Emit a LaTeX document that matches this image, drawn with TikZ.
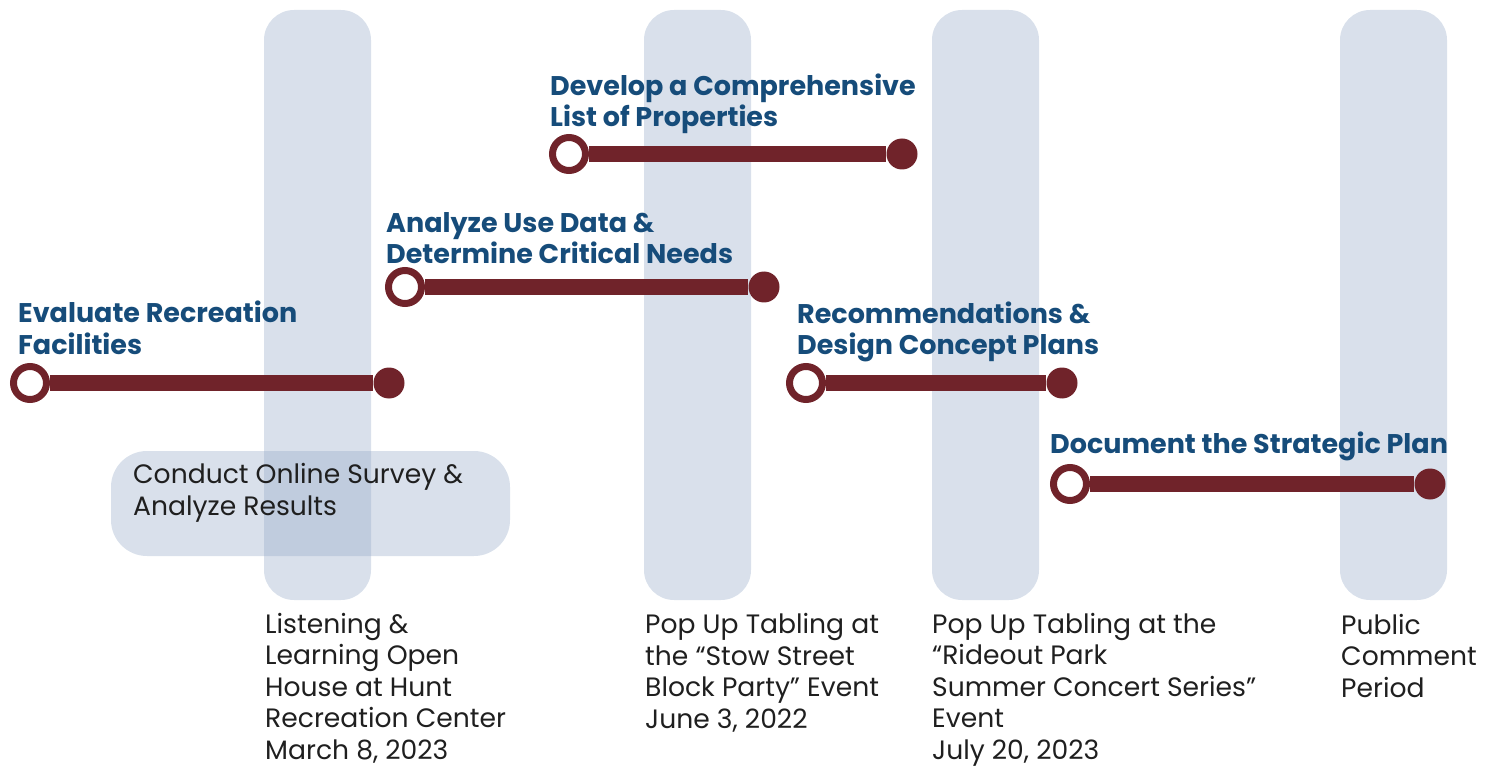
\documentclass[tikz,border=0pt]{standalone}
\usepackage{fontspec}
\setmainfont{Poppins}
\usetikzlibrary{positioning}
\definecolor{plan_maroon}{RGB}{112, 35, 42}
\definecolor{plan_blue}{RGB}{22, 76, 122}
\definecolor{plan_haze}{RGB}{143, 164, 196}
\tikzstyle{bar}=[fill=plan_haze, fill opacity=0.34, rounded corners=30pt, minimum width=107pt, minimum height=590pt, inner sep=0pt]
\tikzstyle{ring}=[circle, draw=plan_maroon, line width=7pt, fill=white, minimum size=33pt, inner sep=0pt]
\tikzstyle{dot}=[circle, fill=plan_maroon, minimum size=31pt, inner sep=0pt]
\tikzstyle{track}=[plan_maroon, line width=16pt]
\tikzstyle{phase}=[anchor=base west, align=left, inner sep=0pt, text=plan_blue, font=\fontsize{27}{31.5}\selectfont\bfseries]
\tikzstyle{event}=[anchor=base west, align=left, inner sep=0pt, text=black!88, font=\fontsize{26.6}{31.5}\selectfont]

\begin{document}
\begin{tikzpicture}[x=1pt, y=-1pt]
            \useasboundingbox (0, 0) rectangle (1494, 767);
            % engagement bars
            \node[bar] (b1) at (317.5, 305) {};
            \node[bar] (b2) at (697.5, 305) {};
            \node[bar] (b3) at (985.5, 305) {};
            \node[bar] (b4) at (1393.5, 305) {};
            \node[bar, minimum width=399pt, minimum height=105pt, rounded corners=36pt] (survey) at (310.5, 503.5) {};
            \node[event] (surveytxt) at (133, 515) {Conduct Online Survey \&\\Analyze Results};
            % events below the bars (anchored on the last line)
            \node[event] (e1) at (265, 759) {Listening \&\\Learning Open\\House at Hunt\\Recreation Center\\March 8, 2023};
            \node[event] (e2) at (645, 728) {Pop Up Tabling at\\the “Stow Street\\Block Party” Event\\June 3, 2022};
            \node[event] (e3) at (932, 759) {Pop Up Tabling at the\\“Rideout Park\\Summer Concert Series”\\Event\\July 20, 2023};
            \node[event] (e4) at (1341, 697) {Public\\Comment\\Period};
            % phases
            \node[phase] (p1) at (18, 354) {Evaluate Recreation\\Facilities};
            \node[ring] (s1) at (30, 383) {};
            \node[dot] (t1) at (389, 383) {};
            \draw[track] (s1) -- (t1);
            \node[phase] (p2) at (386, 264) {Analyze Use Data \&\\Determine Critical Needs};
            \node[ring] (s2) at (405, 287) {};
            \node[dot] (t2) at (764, 287) {};
            \draw[track] (s2) -- (t2);
            \node[phase] (p3) at (550, 127) {Develop a Comprehensive\\List of Properties};
            \node[ring] (s3) at (569, 154) {};
            \node[dot] (t3) at (902, 154) {};
            \draw[track] (s3) -- (t3);
            \node[phase] (p4) at (797, 355) {Recommendations \&\\Design Concept Plans};
            \node[ring] (s4) at (806, 383) {};
            \node[dot] (t4) at (1062, 383) {};
            \draw[track] (s4) -- (t4);
            \node[phase] (p5) at (1050, 453) {Document the Strategic Plan};
            \node[ring] (s5) at (1070, 484) {};
            \node[dot] (t5) at (1430, 484) {};
            \draw[track] (s5) -- (t5);
        \end{tikzpicture}
\end{document}
